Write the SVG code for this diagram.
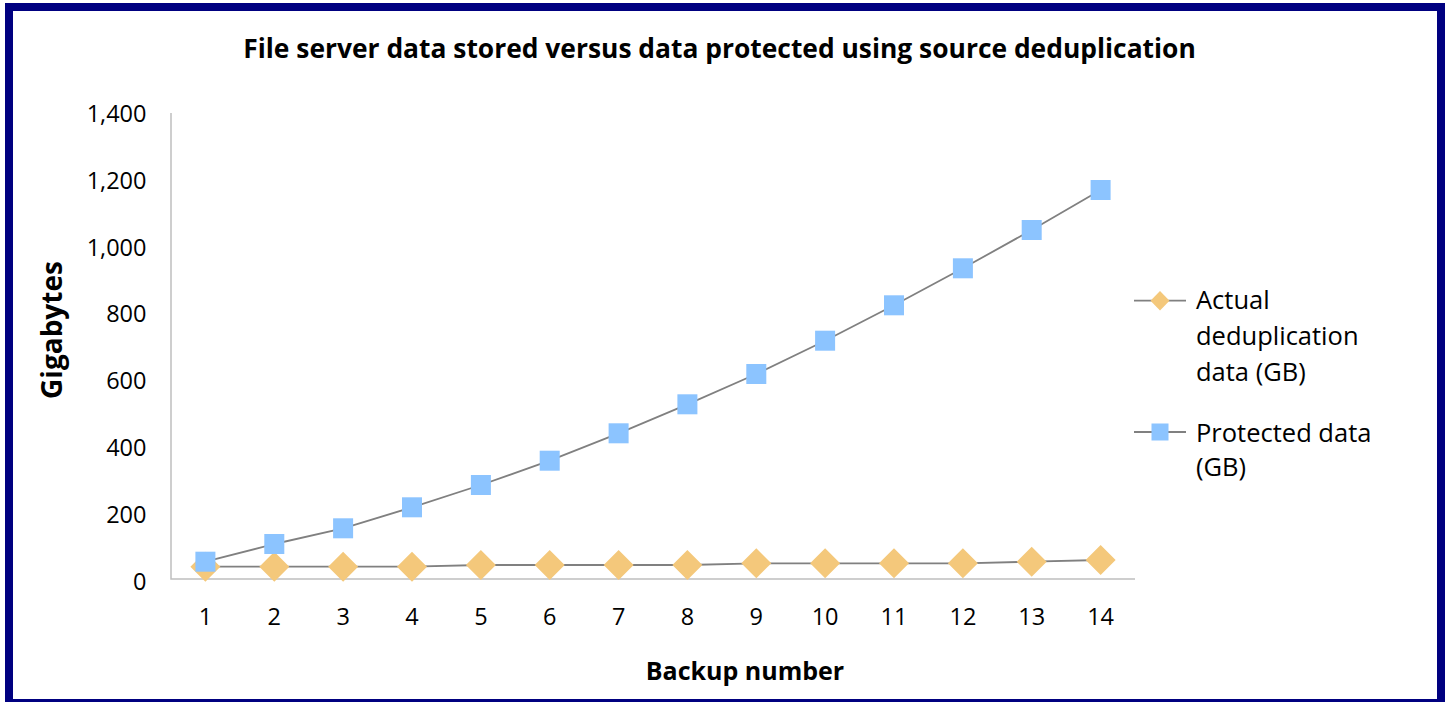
<svg xmlns="http://www.w3.org/2000/svg" width="1452" height="702" viewBox="0 0 1452 702">
<style>
.t{font-family:"Open Sans","Liberation Sans",sans-serif;fill:#000}
.title{font-size:26.4px;font-weight:bold}
.axt{font-size:25px;font-weight:bold}
.tick{font-size:23.5px}
.leg{font-size:25.5px}
.axis{stroke:#BFBFBF;stroke-width:1.5;fill:none}
.ser{stroke:#808080;stroke-width:1.8;fill:none;stroke-linejoin:round}
</style>
<defs>
<path id="dia" d="M0,-15 L15,0 L0,15 L-15,0 Z" fill="#F4C87B"/>
<rect id="sq" x="-10" y="-10" width="20" height="20" fill="#8CC4FF"/>
</defs>
<rect x="0" y="0" width="1452" height="702" fill="#fff"/>
<rect x="9" y="7" width="1432" height="696" fill="#fff" stroke="#000080" stroke-width="8"/>
<g id="title"><text class="t title" x="719.5" y="58" text-anchor="middle">File server data stored versus data protected using source deduplication</text></g>
<g id="axes">
<path class="axis" d="M171,113 V579 H1135"/>
<g class="t tick" text-anchor="end">
<text x="146.5" y="590">0</text>
<text x="146.5" y="522.5">200</text>
<text x="146.5" y="455.5">400</text>
<text x="146.5" y="389">600</text>
<text x="146.5" y="322">800</text>
<text x="146.5" y="255.5">1,000</text>
<text x="146.5" y="189">1,200</text>
<text x="146.5" y="122">1,400</text>
</g>
<g class="t tick" text-anchor="middle">
<text x="205.4" y="625">1</text>
<text x="274.3" y="625">2</text>
<text x="343.1" y="625">3</text>
<text x="412" y="625">4</text>
<text x="480.9" y="625">5</text>
<text x="549.7" y="625">6</text>
<text x="618.6" y="625">7</text>
<text x="687.4" y="625">8</text>
<text x="756.3" y="625">9</text>
<text x="825.1" y="625">10</text>
<text x="894" y="625">11</text>
<text x="962.9" y="625">12</text>
<text x="1031.7" y="625">13</text>
<text x="1100.6" y="625">14</text>
</g>
<text class="t axt" x="745" y="680" text-anchor="middle">Backup number</text>
<text class="t axt" style="font-size:28px" transform="translate(62,330) rotate(-90)" text-anchor="middle">Gigabytes</text>
</g>
<g id="connectors">
<polyline id="dedup-line" class="ser" points="205.4,566.7 274.3,566.7 343.1,566.7 412,566.7 480.9,565 549.7,565 618.6,565 687.4,565 756.3,563.3 825.1,563.3 894,563.3 962.9,563.3 1031.7,561.7 1100.6,560"/>
</g>
<g id="dedup-markers">
<use href="#dia" x="205.4" y="566.7"/><use href="#dia" x="274.3" y="566.7"/><use href="#dia" x="343.1" y="566.7"/><use href="#dia" x="412" y="566.7"/>
<use href="#dia" x="480.9" y="565"/><use href="#dia" x="549.7" y="565"/><use href="#dia" x="618.6" y="565"/><use href="#dia" x="687.4" y="565"/>
<use href="#dia" x="756.3" y="563.3"/><use href="#dia" x="825.1" y="563.3"/><use href="#dia" x="894" y="563.3"/><use href="#dia" x="962.9" y="563.3"/>
<use href="#dia" x="1031.7" y="561.7"/><use href="#dia" x="1100.6" y="560"/>
</g>
<g id="connectors-protected">
<polyline id="protected-line" class="ser" points="205.4,561.7 274.3,544 343.1,528.3 412,507.3 480.9,485 549.7,460.7 618.6,433.3 687.4,404.3 756.3,374 825.1,340.7 894,305.3 962.9,268.3 1031.7,230 1100.6,190"/>
</g>
<g id="protected-markers">
<use href="#sq" x="205.4" y="561.7"/><use href="#sq" x="274.3" y="544"/><use href="#sq" x="343.1" y="528.3"/><use href="#sq" x="412" y="507.3"/>
<use href="#sq" x="480.9" y="485"/><use href="#sq" x="549.7" y="460.7"/><use href="#sq" x="618.6" y="433.3"/><use href="#sq" x="687.4" y="404.3"/>
<use href="#sq" x="756.3" y="374"/><use href="#sq" x="825.1" y="340.7"/><use href="#sq" x="894" y="305.3"/><use href="#sq" x="962.9" y="268.3"/>
<use href="#sq" x="1031.7" y="230"/><use href="#sq" x="1100.6" y="190"/>
</g>
<g id="legend">
<g id="legend-dedup">
<line class="ser" x1="1134" y1="300.7" x2="1186" y2="300.7"/>
<path d="M1160,291 L1169.5,300.7 L1160,310.4 L1150.5,300.7 Z" fill="#F4C87B"/>
<text class="t leg" x="1196" y="309.3">Actual</text>
<text class="t leg" x="1196" y="345">deduplication</text>
<text class="t leg" x="1196" y="380.5">data (GB)</text>
</g>
<g id="legend-protected">
<line class="ser" x1="1134" y1="432" x2="1186" y2="432"/>
<rect x="1151.5" y="423.5" width="17" height="17" fill="#8CC4FF"/>
<text class="t leg" x="1196" y="441.5">Protected data</text>
<text class="t leg" x="1196" y="476">(GB)</text>
</g>
</g>
</svg>
